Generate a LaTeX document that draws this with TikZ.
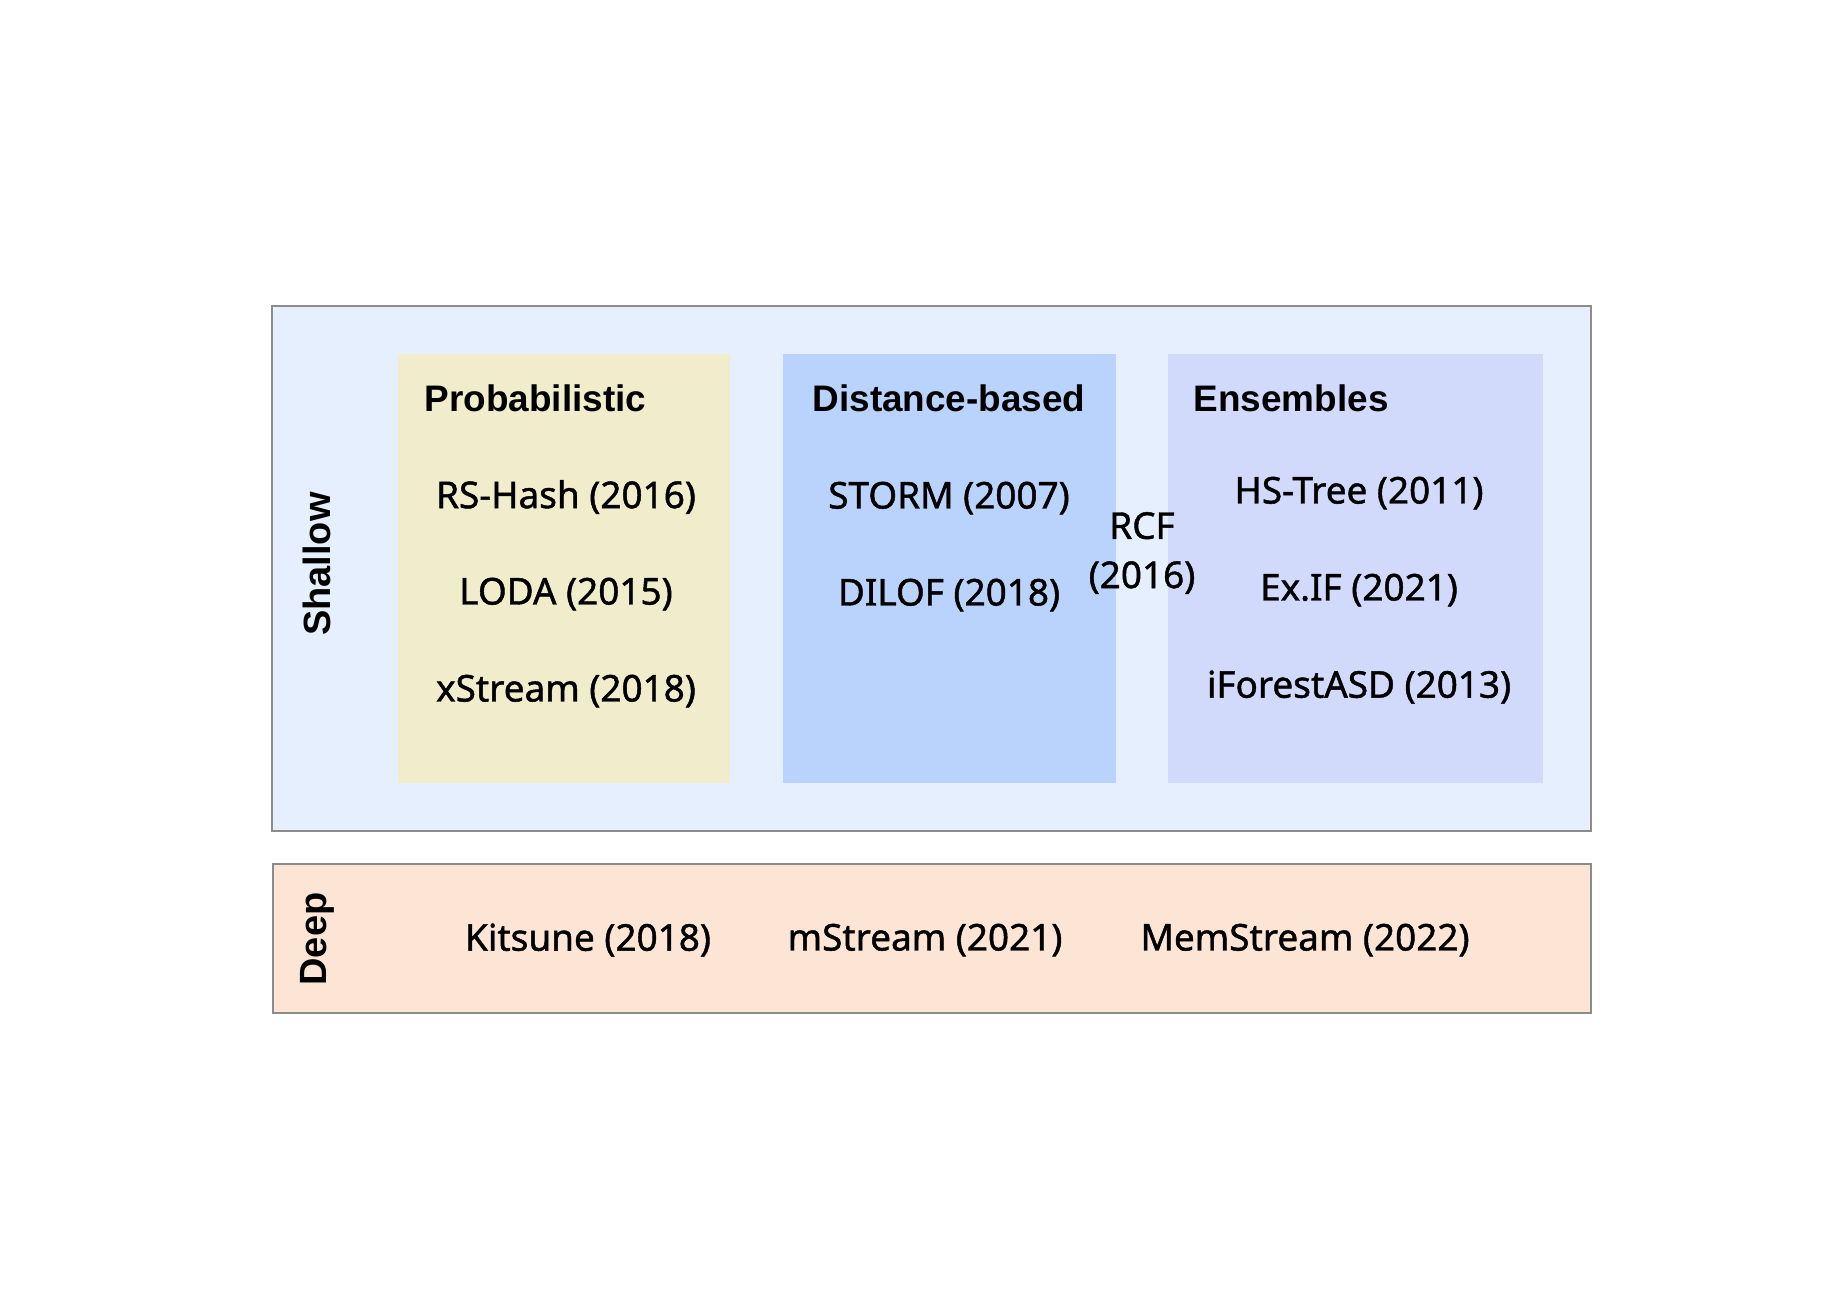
\documentclass[tikz,border=0pt]{standalone}
\usepackage{fontspec}
\setmainfont{Noto Sans}[FakeBold=1.2]
\newfontfamily\headfont{Liberation Sans}
\usetikzlibrary{positioning}

\definecolor{shallowbg}{HTML}{E6EFFE}
\definecolor{probbg}{HTML}{F1ECCB}
\definecolor{distbg}{HTML}{B9D3FD}
\definecolor{ensbg}{HTML}{D2DAFC}
\definecolor{deepbg}{HTML}{FDE5D5}
\definecolor{edgegray}{HTML}{8C8C8C}

\begin{document}
\begin{tikzpicture}[
    x=1cm, y=-1cm, node distance=0.97cm and 0cm,
    panel/.style={rectangle, inner sep=0pt, outer sep=0pt},
    head/.style={font=\headfont\bfseries\fontsize{10.5}{13}\selectfont, inner sep=0pt},
    item/.style={font=\fontsize{10.5}{13}\selectfont, inner sep=0pt, align=center},
    side/.style={font=\headfont\bfseries\fontsize{10.8}{13}\selectfont, rotate=90, inner sep=0pt}
]
\useasboundingbox (0,0) rectangle (18.4,12.9);
\fill[white] (0,0) rectangle (18.4,12.9);

% layers
\node (shallow_box) [panel, draw=edgegray, fill=shallowbg, minimum width=13.19cm, minimum height=5.25cm] at (9.315,5.685) {};
\node (deep_box) [panel, draw=edgegray, fill=deepbg, minimum width=13.18cm, minimum height=1.49cm] at (9.32,9.385) {};

% groups
\node (prob_box) [panel, fill=probbg, minimum width=3.32cm, minimum height=4.29cm] at (5.64,5.685) {};
\node (dist_box) [panel, fill=distbg, minimum width=3.33cm, minimum height=4.29cm] at (9.495,5.685) {};
\node (ens_box) [panel, fill=ensbg, minimum width=3.75cm, minimum height=4.29cm] at (13.555,5.685) {};

\node (shallow_label) [side] at (3.17,5.64) {Shallow};
\node (deep_label) [side] at (3.17,9.39) {Deep};

% probabilistic
\node (prob_head) [head, anchor=west] at (4.24,3.98) {Probabilistic};
\node (rs_hash) [item] at (5.66,4.97) {RS-Hash (2016)};
\node (loda) [item, below=of rs_hash.center, anchor=center] {LODA (2015)};
\node (xstream) [item, below=of loda.center, anchor=center] {xStream (2018)};

% distance-based
\node (dist_head) [head] at (9.49,3.98) {Distance-based};
\node (storm) [item] at (9.49,4.98) {STORM (2007)};
\node (dilof) [item, below=of storm.center, anchor=center] {DILOF (2018)};

\node (rcf) [item] at (11.42,5.53) {RCF\\[1pt](2016)};

% ensembles
\node (ens_head) [head, anchor=west] at (11.93,3.98) {Ensembles};
\node (hs_tree) [item] at (13.59,4.93) {HS-Tree (2011)};
\node (ex_if) [item, below=of hs_tree.center, anchor=center] {Ex.IF (2021)};
\node (iforest) [item, below=of ex_if.center, anchor=center] {iForestASD (2013)};

% deep
\node (kitsune) [item] at (5.88,9.40) {Kitsune (2018)};
\node (mstream) [item] at (9.25,9.40) {mStream (2021)};
\node (memstream) [item] at (13.05,9.40) {MemStream (2022)};
\end{tikzpicture}
\end{document}
